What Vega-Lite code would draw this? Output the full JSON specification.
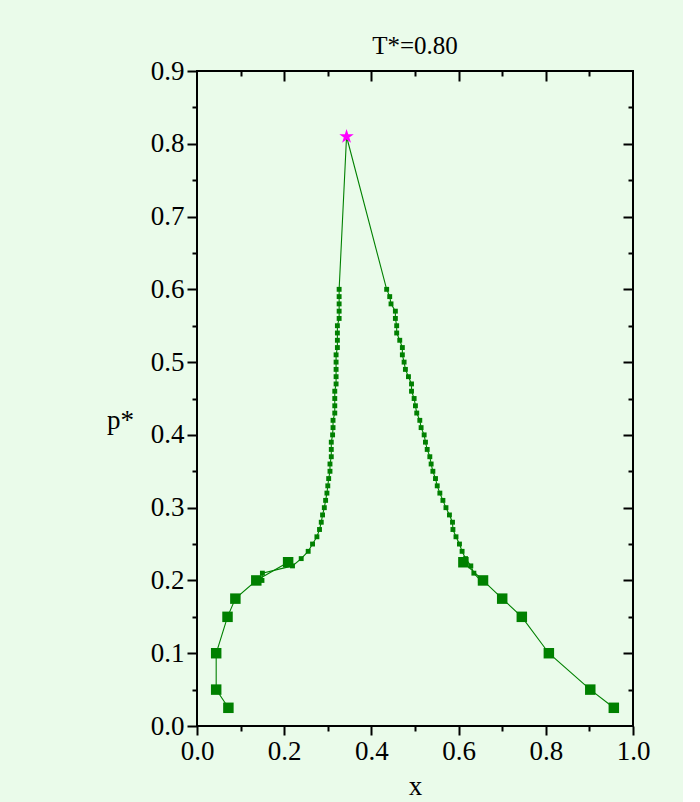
{
  "$schema": "https://vega.github.io/schema/vega-lite/v6.json",
  "width": 436,
  "height": 655,
  "autosize": {"type": "none"},
  "padding": {"left": 197, "top": 71, "right": 50, "bottom": 76},
  "background": "#eafbea",
  "config": {
    "view": {"stroke": "black", "strokeWidth": 2},
    "font": "Liberation Serif",
    "title": {"font": "Liberation Serif"},
    "axis": {
      "domain": false,
      "grid": false,
      "tickColor": "black",
      "tickWidth": 2,
      "labelFont": "Liberation Serif",
      "labelFontSize": 27,
      "labelColor": "black",
      "titleFont": "Liberation Serif",
      "titleFontSize": 27,
      "titleFontWeight": "normal",
      "titleColor": "black"
    }
  },
  "title": {
    "text": "T*=0.80",
    "font": "Liberation Serif",
    "fontSize": 25,
    "fontWeight": "normal",
    "color": "black",
    "frame": "group",
    "anchor": "middle",
    "offset": -2
  },
  "datasets": {
    "coexistence": [
      {"x": 0.209, "p": 0.225, "branch": "liquid"},
      {"x": 0.136, "p": 0.2, "branch": "liquid"},
      {"x": 0.088, "p": 0.175, "branch": "liquid"},
      {"x": 0.07, "p": 0.15, "branch": "liquid"},
      {"x": 0.044, "p": 0.1, "branch": "liquid"},
      {"x": 0.044, "p": 0.05, "branch": "liquid"},
      {"x": 0.072, "p": 0.025, "branch": "liquid"},
      {"x": 0.611, "p": 0.225, "branch": "vapour"},
      {"x": 0.656, "p": 0.2, "branch": "vapour"},
      {"x": 0.7, "p": 0.175, "branch": "vapour"},
      {"x": 0.745, "p": 0.15, "branch": "vapour"},
      {"x": 0.807, "p": 0.1, "branch": "vapour"},
      {"x": 0.902, "p": 0.05, "branch": "vapour"},
      {"x": 0.956, "p": 0.025, "branch": "vapour"}
    ],
    "envelope": [
      {"x": 0.149, "p": 0.2, "kind": "state"},
      {"x": 0.15, "p": 0.21, "kind": "state"},
      {"x": 0.219, "p": 0.22, "kind": "state"},
      {"x": 0.239, "p": 0.23, "kind": "state"},
      {"x": 0.255, "p": 0.24, "kind": "state"},
      {"x": 0.265, "p": 0.25, "kind": "state"},
      {"x": 0.275, "p": 0.26, "kind": "state"},
      {"x": 0.281, "p": 0.27, "kind": "state"},
      {"x": 0.285, "p": 0.28, "kind": "state"},
      {"x": 0.288, "p": 0.29, "kind": "state"},
      {"x": 0.292, "p": 0.3, "kind": "state"},
      {"x": 0.295, "p": 0.31, "kind": "state"},
      {"x": 0.298, "p": 0.32, "kind": "state"},
      {"x": 0.3, "p": 0.33, "kind": "state"},
      {"x": 0.302, "p": 0.34, "kind": "state"},
      {"x": 0.305, "p": 0.35, "kind": "state"},
      {"x": 0.305, "p": 0.36, "kind": "state"},
      {"x": 0.308, "p": 0.37, "kind": "state"},
      {"x": 0.308, "p": 0.38, "kind": "state"},
      {"x": 0.308, "p": 0.39, "kind": "state"},
      {"x": 0.311, "p": 0.4, "kind": "state"},
      {"x": 0.312, "p": 0.41, "kind": "state"},
      {"x": 0.312, "p": 0.42, "kind": "state"},
      {"x": 0.316, "p": 0.43, "kind": "state"},
      {"x": 0.316, "p": 0.44, "kind": "state"},
      {"x": 0.316, "p": 0.45, "kind": "state"},
      {"x": 0.316, "p": 0.46, "kind": "state"},
      {"x": 0.319, "p": 0.47, "kind": "state"},
      {"x": 0.319, "p": 0.48, "kind": "state"},
      {"x": 0.319, "p": 0.49, "kind": "state"},
      {"x": 0.319, "p": 0.5, "kind": "state"},
      {"x": 0.319, "p": 0.51, "kind": "state"},
      {"x": 0.322, "p": 0.52, "kind": "state"},
      {"x": 0.322, "p": 0.53, "kind": "state"},
      {"x": 0.322, "p": 0.54, "kind": "state"},
      {"x": 0.322, "p": 0.55, "kind": "state"},
      {"x": 0.326, "p": 0.56, "kind": "state"},
      {"x": 0.326, "p": 0.57, "kind": "state"},
      {"x": 0.326, "p": 0.58, "kind": "state"},
      {"x": 0.326, "p": 0.59, "kind": "state"},
      {"x": 0.326, "p": 0.6, "kind": "state"},
      {"x": 0.343, "p": 0.81, "kind": "critical"},
      {"x": 0.435, "p": 0.6, "kind": "state"},
      {"x": 0.442, "p": 0.59, "kind": "state"},
      {"x": 0.445, "p": 0.58, "kind": "state"},
      {"x": 0.455, "p": 0.57, "kind": "state"},
      {"x": 0.455, "p": 0.56, "kind": "state"},
      {"x": 0.458, "p": 0.55, "kind": "state"},
      {"x": 0.458, "p": 0.54, "kind": "state"},
      {"x": 0.465, "p": 0.53, "kind": "state"},
      {"x": 0.471, "p": 0.52, "kind": "state"},
      {"x": 0.471, "p": 0.51, "kind": "state"},
      {"x": 0.475, "p": 0.5, "kind": "state"},
      {"x": 0.478, "p": 0.49, "kind": "state"},
      {"x": 0.485, "p": 0.48, "kind": "state"},
      {"x": 0.492, "p": 0.47, "kind": "state"},
      {"x": 0.492, "p": 0.46, "kind": "state"},
      {"x": 0.498, "p": 0.45, "kind": "state"},
      {"x": 0.501, "p": 0.44, "kind": "state"},
      {"x": 0.504, "p": 0.43, "kind": "state"},
      {"x": 0.511, "p": 0.42, "kind": "state"},
      {"x": 0.514, "p": 0.41, "kind": "state"},
      {"x": 0.521, "p": 0.4, "kind": "state"},
      {"x": 0.524, "p": 0.39, "kind": "state"},
      {"x": 0.528, "p": 0.38, "kind": "state"},
      {"x": 0.534, "p": 0.37, "kind": "state"},
      {"x": 0.537, "p": 0.36, "kind": "state"},
      {"x": 0.541, "p": 0.35, "kind": "state"},
      {"x": 0.547, "p": 0.34, "kind": "state"},
      {"x": 0.551, "p": 0.33, "kind": "state"},
      {"x": 0.557, "p": 0.32, "kind": "state"},
      {"x": 0.564, "p": 0.31, "kind": "state"},
      {"x": 0.571, "p": 0.3, "kind": "state"},
      {"x": 0.579, "p": 0.29, "kind": "state"},
      {"x": 0.586, "p": 0.28, "kind": "state"},
      {"x": 0.587, "p": 0.27, "kind": "state"},
      {"x": 0.594, "p": 0.26, "kind": "state"},
      {"x": 0.602, "p": 0.25, "kind": "state"},
      {"x": 0.608, "p": 0.24, "kind": "state"},
      {"x": 0.616, "p": 0.23, "kind": "state"},
      {"x": 0.628, "p": 0.22, "kind": "state"},
      {"x": 0.635, "p": 0.21, "kind": "state"},
      {"x": 0.65, "p": 0.2, "kind": "state"}
    ]
  },
  "layer": [
    {
      "data": {"name": "coexistence"},
      "mark": {"type": "line", "color": "#008000", "strokeWidth": 1.1},
      "encoding": {
        "x": {
          "field": "x", "type": "quantitative",
          "scale": {"domain": [0, 1], "nice": false, "zero": false},
          "axis": {
            "orient": "bottom", "values": [0, 0.2, 0.4, 0.6, 0.8, 1.0], "format": ".1f",
            "tickSize": 9, "labelPadding": 3, "labelFlush": false,
            "title": "x", "titleY": 68, "titleBaseline": "alphabetic"
          }
        },
        "y": {
          "field": "p", "type": "quantitative",
          "scale": {"domain": [0, 0.9], "nice": false, "zero": false},
          "axis": {
            "orient": "left", "values": [0, 0.1, 0.2, 0.3, 0.4, 0.5, 0.6, 0.7, 0.8, 0.9], "format": ".1f",
            "tickSize": 10, "labelPadding": 3, "labelFlush": false,
            "title": "p*", "titleAngle": 0, "titleX": -77, "titleY": 349,
            "titleAlign": "center", "titleBaseline": "middle"
          }
        },
        "detail": {"field": "branch", "type": "nominal"},
        "order": {"value": null}
      }
    },
    {
      "data": {"name": "coexistence"},
      "mark": {"type": "point", "shape": "square", "filled": true, "color": "#008000", "size": 110, "opacity": 1},
      "encoding": {
        "x": {
          "field": "x", "type": "quantitative",
          "scale": {"domain": [0, 1], "nice": false, "zero": false},
          "axis": {"orient": "bottom", "values": [0.1, 0.3, 0.5, 0.7, 0.9], "tickSize": 5, "labels": false, "title": null}
        },
        "y": {
          "field": "p", "type": "quantitative",
          "scale": {"domain": [0, 0.9], "nice": false, "zero": false},
          "axis": {"orient": "left", "values": [0.05, 0.15, 0.25, 0.35, 0.45, 0.55, 0.65, 0.75, 0.85], "tickSize": 5, "labels": false, "title": null}
        }
      }
    },
    {
      "data": {"name": "envelope"},
      "mark": {"type": "line", "color": "#008000", "strokeWidth": 1.1},
      "encoding": {
        "x": {
          "field": "x", "type": "quantitative",
          "scale": {"domain": [0, 1], "nice": false, "zero": false},
          "axis": {"orient": "top", "values": [0.2, 0.4, 0.6, 0.8], "tickSize": 10, "offset": -10, "labels": false, "title": null}
        },
        "y": {
          "field": "p", "type": "quantitative",
          "scale": {"domain": [0, 0.9], "nice": false, "zero": false},
          "axis": {"orient": "right", "values": [0.1, 0.2, 0.3, 0.4, 0.5, 0.6, 0.7, 0.8], "tickSize": 10, "offset": -10, "labels": false, "title": null}
        },
        "order": {"value": null}
      }
    },
    {
      "data": {"name": "envelope"},
      "transform": [{"filter": "datum.kind === 'state'"}],
      "mark": {"type": "point", "shape": "square", "filled": true, "color": "#008000", "size": 24, "opacity": 1},
      "encoding": {
        "x": {
          "field": "x", "type": "quantitative",
          "scale": {"domain": [0, 1], "nice": false, "zero": false},
          "axis": {"orient": "top", "values": [0.1, 0.3, 0.5, 0.7, 0.9], "tickSize": 5, "offset": -5, "labels": false, "title": null}
        },
        "y": {
          "field": "p", "type": "quantitative",
          "scale": {"domain": [0, 0.9], "nice": false, "zero": false},
          "axis": {"orient": "right", "values": [0.05, 0.15, 0.25, 0.35, 0.45, 0.55, 0.65, 0.75, 0.85], "tickSize": 5, "offset": -5, "labels": false, "title": null}
        }
      }
    },
    {
      "data": {"name": "envelope"},
      "transform": [{"filter": "datum.kind === 'critical'"}],
      "mark": {
        "type": "point",
        "shape": "M0,-1L0.2245,-0.309L0.9511,-0.309L0.3633,0.118L0.5878,0.809L0,0.382L-0.5878,0.809L-0.3633,0.118L-0.9511,-0.309L-0.2245,-0.309Z",
        "filled": true, "color": "#ff00ff", "size": 230, "opacity": 1
      },
      "encoding": {
        "x": {"field": "x", "type": "quantitative", "scale": {"domain": [0, 1], "nice": false, "zero": false}, "axis": null},
        "y": {"field": "p", "type": "quantitative", "scale": {"domain": [0, 0.9], "nice": false, "zero": false}, "axis": null}
      }
    }
  ],
  "resolve": {"axis": {"x": "independent", "y": "independent"}}
}
